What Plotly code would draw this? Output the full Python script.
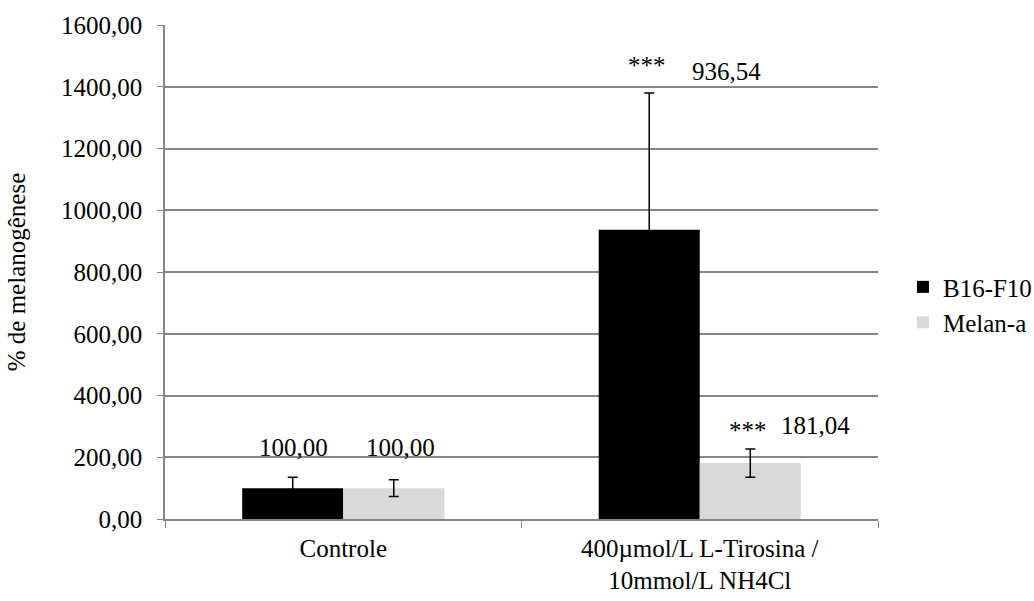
import plotly.graph_objects as go

categories = ["Controle", "400µmol/L L-Tirosina /<br>10mmol/L NH4Cl"]
b16_values = [100.00, 936.54]
b16_errors = [35, 443]
melan_values = [100.00, 181.04]
melan_errors = [27, 46]
y_ticks = [0, 200, 400, 600, 800, 1000, 1200, 1400, 1600]
y_ticklabels = ["%d,00" % v for v in y_ticks]

FONT = "Liberation Serif"
FS = 25

fig = go.Figure()
fig.add_trace(go.Bar(
    x=categories, y=b16_values, name="B16-F10",
    marker=dict(color="#000000", line=dict(width=0)),
    error_y=dict(type="data", array=b16_errors, visible=True,
                 color="#000000", thickness=1.5, width=5),
))
fig.add_trace(go.Bar(
    x=categories, y=melan_values, name="Melan-a",
    marker=dict(color="#d9d9d9", line=dict(width=0)),
    error_y=dict(type="data", array=melan_errors, visible=True,
                 color="#000000", thickness=1.5, width=5),
))

def fmt(v):
    return ("%.2f" % v).replace(".", ",")

ann = [
    # (category index, text, y, xshift)
    (0, fmt(b16_values[0]), 233, -50),
    (0, fmt(melan_values[0]), 233, 57),
    (1, "***", 1470, -53),
    (1, fmt(b16_values[1]), 1448, 27),
    (1, "***", 288, 48),
    (1, fmt(melan_values[1]), 304, 116),
]
for ci, txt, yv, xs in ann:
    fig.add_annotation(x=categories[ci], y=yv, text=txt, showarrow=False,
                       xshift=xs, font=dict(family=FONT, size=FS, color="#000"),
                       xanchor="center", yanchor="middle")

fig.update_layout(
    width=1034, height=601,
    margin=dict(l=165, r=156, t=25, b=82, autoexpand=False),
    paper_bgcolor="white", plot_bgcolor="white",
    barmode="group", bargap=0.433, bargroupgap=0,
    font=dict(family=FONT, size=FS, color="#000"),
    showlegend=True,
    legend=dict(x=1.035, y=0.434, xanchor="left", yanchor="middle",
                font=dict(family=FONT, size=FS, color="#000"),
                itemwidth=30),
    xaxis=dict(showline=True, linecolor="#868686", linewidth=1.5,
               ticks="outside", tickson="boundaries", ticklen=7,
               tickcolor="#868686", ticklabelstandoff=6,
               tickfont=dict(family=FONT, size=FS)),
    yaxis=dict(range=[0, 1600], tickvals=y_ticks, ticktext=y_ticklabels,
               showline=True, linecolor="#868686", linewidth=1.5,
               ticks="outside", ticklen=6, tickcolor="#868686",
               ticklabelstandoff=10,
               showgrid=True, gridcolor="#868686", gridwidth=1.5,
               zeroline=False, automargin=False,
               title=dict(text="% de melanogênese", font=dict(family=FONT, size=FS), standoff=28),
               tickfont=dict(family=FONT, size=FS)),
)

fig.write_html("out.html")
